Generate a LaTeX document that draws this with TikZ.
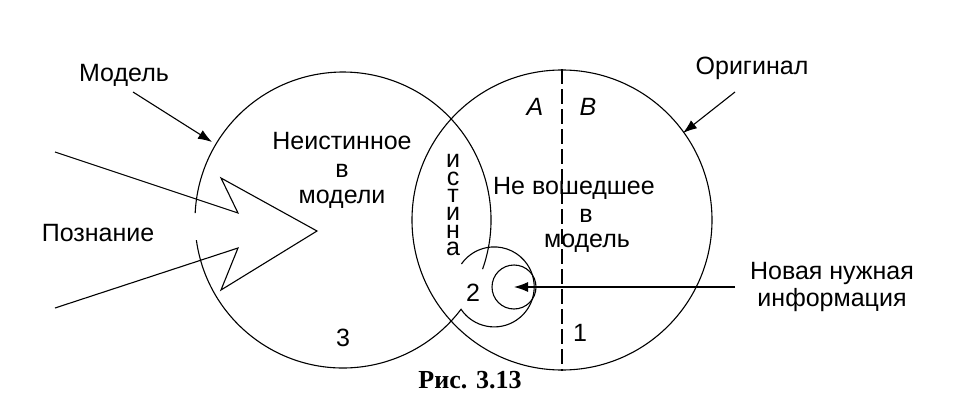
\documentclass[tikz,border=0pt]{standalone}
\usepackage{fontspec}
\setmainfont{Liberation Sans}
\newfontfamily\capfont{Liberation Serif}
\usetikzlibrary{arrows.meta}

\tikzset{
  txt/.style={font=\fontsize{25}{29}\selectfont, inner sep=0pt},
  pointer/.style={-{Latex[length=14pt,width=10pt]}},
}

\begin{document}
\begin{tikzpicture}[x=1pt,y=1pt,line width=1.1pt]
        \useasboundingbox (0,0) rectangle (964,416);
        % model circle, open on the left and near the spiral
        \coordinate (mod) at (343,196);
        \draw ([shift={(-19.4:148)}]mod) arc[start angle=-19.4,end angle=177.3,radius=148];
        \draw ([shift={(187.8:148)}]mod) arc[start angle=187.8,end angle=322.9,radius=148]
              arc[start angle=214,end angle=505,radius=40];
        % original circle
        \node[circle,draw,minimum size=300pt,inner sep=0pt] (orig) at (562,196) {};
        \draw[dash pattern=on 15pt off 5pt] (orig.north) -- (orig.south);
        \node[circle,draw,minimum size=44pt,inner sep=0pt] (target) at (514,129) {};

        % cognition arrow
        \draw (55,264) -- (238,203) -- (221,238) -- (317,185) -- (221,126) -- (238,168) -- (55,108);

        \node[txt] (modlbl) at (124,341) {Модель};
        \coordinate (modtail) at (133,324);
        \coordinate (modtip) at (212,274);
        \draw[pointer] (modtail) -- (modtip);

        \node[txt] (origlbl) at (752,348) {Оригинал};
        \coordinate (origtail) at (735,324);
        \coordinate (origtip) at (683,283);
        \draw[pointer] (origtail) -- (origtip);

        \node[txt] (cogn) at (98,183) {Познание};

        \node[txt] (false1) at (342,275) {Неистинное};
        \node[txt] (false2) at (342,245) {в};
        \node[txt] (false3) at (342,217) {модели};

        \node[txt, align=center, font=\fontsize{25}{17.6}\selectfont, anchor=north] (truth) at (453,262) {и\\с\\т\\и\\н\\а};

        \node[txt] (partA) at (535,309) {\itshape A};
        \node[txt] (partB) at (588,309) {\itshape B};

        \node[txt] (out1) at (574,228) {Не вошедшее};
        \node[txt] (out2) at (586,200) {в};
        \node[txt] (out3) at (587,173) {модель};

        \node[txt] (n2) at (473,123) {2};
        \node[txt] (n3) at (343,78) {3};
        \node[txt] (n1) at (580,83) {1};

        \node[txt] (info1) at (832,143) {Новая нужная};
        \node[txt] (info2) at (832,116) {информация};
        \coordinate (infotail) at (735,129);
        \draw[pointer] (infotail) -- (target.center);

        \node[inner sep=0pt,font=\capfont\bfseries\fontsize{26}{30}\selectfont] (cap) at (470,36) {Рис. 3.13};
    \end{tikzpicture}
\end{document}
